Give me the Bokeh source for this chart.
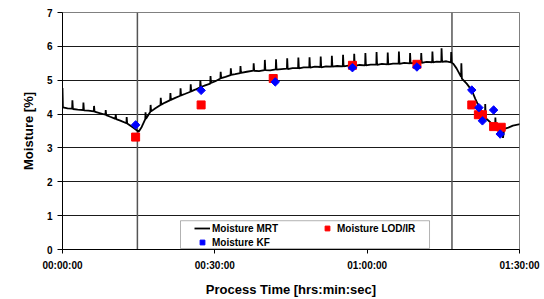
from bokeh.plotting import figure
from bokeh.models import Range1d, FixedTicker, Span, BoxAnnotation, Legend, LegendItem
from bokeh.embed import file_html
from bokeh.resources import INLINE

# ---- data (time in minutes, moisture in %) ----
mrt_time = [0.0, 0.08, 1.0, 1.9, 1.95, 2.05, 3.0, 4.07, 4.12, 4.22, 5.1, 6.16, 6.21, 6.31, 7.3,
            8.46, 8.51, 8.61, 9.4, 10.43, 10.48, 10.58, 11.5, 12.59, 12.64, 12.74, 13.9, 15.0, 15.6,
            16.3, 16.35, 16.45, 17.3, 17.35, 17.45, 18.3, 19.3, 19.35, 19.45, 20.2, 21.2, 21.25, 21.35,
            22.2, 23.2, 23.25, 23.35, 24.2, 25.2, 25.25, 25.35, 26.1, 27.1, 27.15, 27.25, 28.1,
            29.1, 29.15, 29.25, 30.1, 31.1, 31.15, 31.25, 32.1, 33.1, 33.15, 33.25, 34.0,
            35.0, 35.05, 35.15, 36.3, 37.6, 37.65, 37.75, 38.7, 39.8, 39.85, 39.95, 40.9,
            42.0, 42.05, 42.15, 43.1, 44.2, 44.25, 44.35, 45.3, 46.4, 46.45, 46.55, 47.5,
            48.6, 48.65, 48.75, 49.7, 50.8, 50.85, 50.95, 51.9, 53.0, 53.05, 53.15, 54.1,
            55.2, 55.25, 55.35, 56.3, 57.4, 57.45, 57.55, 58.5, 59.6, 59.65, 59.75, 60.7,
            61.8, 61.85, 61.95, 62.9, 64.0, 64.05, 64.15, 65.1, 66.2, 66.25, 66.35, 67.3,
            68.4, 68.45, 68.55, 69.5, 70.6, 70.65, 70.75, 71.7, 72.8, 72.85, 72.95, 73.7,
            74.6, 74.65, 74.75, 75.6, 76.5, 76.55, 76.65, 77.0, 77.6, 78.5, 78.55, 78.65,
            79.6, 80.6, 81.3, 82.0, 82.7, 83.2, 83.25, 83.35, 84.3, 85.2, 85.25, 85.35,
            86.4, 86.75, 87.0, 87.8, 88.7, 90.4]
mrt_moisture = [4.77, 4.20, 4.17, 4.16, 4.41, 4.15, 4.13, 4.12, 4.34, 4.11, 4.10, 4.08, 4.24, 4.07, 4.03,
                3.98, 4.12, 3.97, 3.92, 3.86, 4.00, 3.85, 3.80, 3.73, 3.91, 3.72, 3.60, 3.48, 3.62,
                3.85, 4.05, 3.86, 4.07, 4.27, 4.08, 4.17, 4.27, 4.48, 4.28, 4.34, 4.41, 4.62, 4.42,
                4.48, 4.54, 4.76, 4.55, 4.60, 4.66, 4.88, 4.67, 4.72, 4.79, 5.00, 4.80, 4.85,
                4.90, 5.12, 4.92, 4.97, 5.05, 5.25, 5.06, 5.10, 5.15, 5.35, 5.16, 5.18,
                5.21, 5.42, 5.22, 5.25, 5.28, 5.50, 5.28, 5.27, 5.30, 5.60, 5.30, 5.29,
                5.32, 5.62, 5.31, 5.33, 5.34, 5.65, 5.33, 5.36, 5.36, 5.67, 5.35, 5.38,
                5.38, 5.68, 5.37, 5.40, 5.39, 5.70, 5.38, 5.41, 5.40, 5.72, 5.40, 5.42,
                5.41, 5.75, 5.41, 5.43, 5.43, 5.78, 5.42, 5.45, 5.44, 5.80, 5.44, 5.46,
                5.46, 5.83, 5.45, 5.48, 5.47, 5.82, 5.47, 5.49, 5.49, 5.85, 5.48, 5.51,
                5.50, 5.80, 5.50, 5.52, 5.52, 5.80, 5.51, 5.54, 5.53, 5.85, 5.53, 5.55,
                5.54, 5.94, 5.54, 5.56, 5.53, 5.83, 5.52, 5.48, 5.35, 5.10, 5.50, 5.05,
                4.90, 4.70, 4.45, 4.22, 4.05, 3.89, 4.30, 3.88, 3.75, 3.62, 3.90, 3.60,
                3.54, 3.30, 3.56, 3.60, 3.66, 3.71]

lod_time = [14.4, 27.3, 41.5, 57.1, 69.8, 80.6, 81.9, 82.7, 84.9, 86.4]
lod_moisture = [3.32, 4.27, 5.05, 5.44, 5.47, 4.27, 3.98, 3.98, 3.63, 3.61]

kf_time = [14.4, 27.3, 41.9, 57.1, 69.8, 80.6, 82.0, 82.7, 84.9, 86.2]
kf_moisture = [3.68, 4.70, 4.95, 5.37, 5.39, 4.71, 4.19, 3.80, 4.12, 3.41]

phase_marks = [14.75, 76.7]
x_ticks = [0, 30, 60, 90]
x_tick_labels = ["00:00:00", "00:30:00", "01:00:00", "01:30:00"]
y_ticks = [0, 1, 2, 3, 4, 5, 6, 7]

FONT = "Liberation Sans"

p = figure(width=544, height=299, output_backend="svg", toolbar_location=None,
           x_range=Range1d(0, 90), y_range=Range1d(0, 7),
           min_border_left=62, min_border_right=25, min_border_top=12, min_border_bottom=48)
p.background_fill_color = "white"
p.border_fill_color = "white"
p.outline_line_color = "#808080"
p.outline_line_width = 1

# axes
xa = p.xaxis[0]
xa.ticker = FixedTicker(ticks=x_ticks)
xa.major_label_overrides = {t: l for t, l in zip(x_ticks, x_tick_labels)}
xa.minor_tick_line_color = None
xa.major_tick_in = 0
xa.major_tick_out = 4
xa.major_label_standoff = 6
xa.axis_label = "Process Time [hrs:min:sec]"
xa.axis_label_standoff = 8

ya = p.yaxis[0]
ya.ticker = FixedTicker(ticks=y_ticks)
ya.minor_tick_line_color = None
ya.major_tick_in = 0
ya.major_tick_out = 5
ya.major_label_standoff = 5
ya.axis_label = "Moisture [%]"
ya.axis_label_standoff = 8

for ax in (xa, ya):
    ax.axis_line_color = "black"
    ax.major_tick_line_color = "black"
    ax.major_label_text_font = FONT
    ax.major_label_text_font_style = "bold"
    ax.major_label_text_font_size = "10px"
    ax.major_label_text_color = "black"
    ax.axis_label_text_font = FONT
    ax.axis_label_text_font_style = "bold"
    ax.axis_label_text_font_size = "13px"
    ax.axis_label_text_color = "black"

p.xgrid.visible = False
p.ygrid.ticker = FixedTicker(ticks=[1, 2, 3, 4, 5, 6])
p.ygrid.grid_line_color = "#1a1a1a"
p.ygrid.grid_line_width = 1

for t in phase_marks:
    p.add_layout(Span(location=t, dimension="height", line_color="#555555", line_width=1.5, level="underlay"))

# legend frame (data units)
p.add_layout(BoxAnnotation(left=23.24, right=72.28, bottom=0.03, top=0.85,
                           fill_color="white", fill_alpha=1.0, line_color="black", line_width=1))

r_mrt = p.line(mrt_time, mrt_moisture, line_color="black", line_width=1.8)
r_lod = p.scatter(lod_time, lod_moisture, marker="square", size=8, fill_color="#ff0000", line_color="#ff0000")
r_kf = p.scatter(kf_time, kf_moisture, marker="square", angle=0.785398, size=6, fill_color="#0000ff", line_color="#0000ff")

legend = Legend(items=[LegendItem(label="Moisture MRT", renderers=[r_mrt]),
                       LegendItem(label="Moisture LOD/IR", renderers=[r_lod]),
                       LegendItem(label="Moisture KF", renderers=[r_kf])],
                location=(132, 1), ncols=2, orientation="horizontal",
                padding=0, margin=0, spacing=2,
                glyph_width=16, glyph_height=12, label_standoff=2, label_width=105,
                label_text_font=FONT, label_text_font_style="bold", label_text_font_size="10px",
                label_text_color="black", border_line_alpha=0, background_fill_alpha=0)
p.add_layout(legend, "center")

open("out.html", "w").write(file_html(p, INLINE))
